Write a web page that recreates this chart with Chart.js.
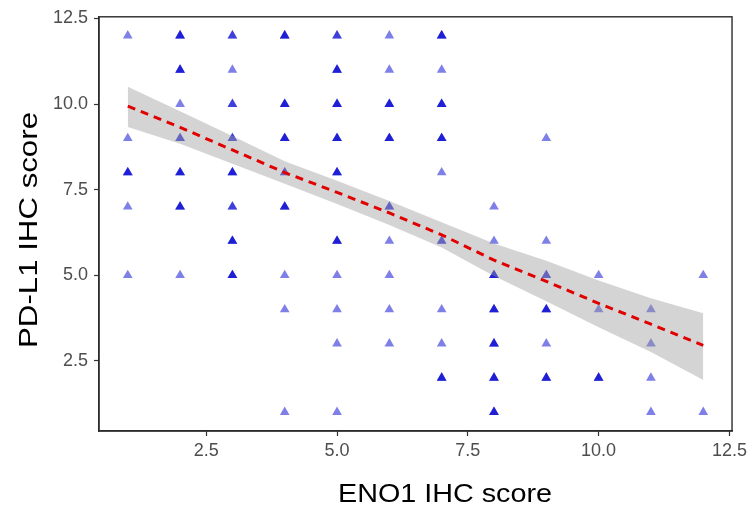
<!DOCTYPE html>
<html>
<head>
<meta charset="utf-8">
<title>ENO1 vs PD-L1</title>
<script src="https://cdn.jsdelivr.net/npm/chart.js@4"></script>
<style>
  html, body { margin: 0; padding: 0; background: #fff; }
  canvas { display: block; }
</style>
</head>
<body>
<canvas id="scatter" width="751" height="509"></canvas>
<script>
// observed scores, one entry per grid cell; ptN = how many samples share that cell
const ptX = [1,1,1,1,1, 2,2,2,2,2,2,2, 3,3,3,3,3,3,3,3, 4,4,4,4,4,4,4,4,
  5,5,5,5,5,5,5,5,5,5, 6,6,6,6,6,6,6,6,6, 7,7,7,7,7,7,7,7,7,
  8,8,8,8,8,8,8, 9,9,9,9,9,9, 10,10,10, 11,11,11,11, 12,12];
const ptY = [12,9,8,7,5, 12,11,10,9,8,7,5, 12,11,10,9,8,7,6,5, 12,10,9,8,7,5,4,1,
  12,11,10,9,8,6,5,4,3,1, 12,11,10,9,7,6,5,4,3, 12,11,10,9,8,6,4,3,2,
  7,6,5,4,3,2,1, 9,6,5,4,3,2, 5,4,2, 4,3,2,1, 5,1];
const ptN = [1,1,3,1,1, 3,3,1,2,3,3,1, 2,1,2,2,3,2,3,3, 3,3,3,2,3,1,1,1,
  2,3,3,3,3,3,1,1,1,1, 1,1,3,3,2,1,1,1,1, 3,1,3,3,1,2,1,1,3,
  1,1,3,3,3,3,3, 1,1,2,3,1,3, 1,1,3, 1,1,1,1, 1,1];

// fitted line and its confidence band
const fitX = [1,2,3,4,5,6,7,8,9,10,11,12];
const fitY = [9.94,9.32,8.66,8.00,7.42,6.82,6.18,5.44,4.82,4.18,3.57,2.95];
const bandHigh = [10.51,9.79,9.07,8.33,7.76,7.17,6.55,5.93,5.42,4.85,4.33,3.89];
const bandLow = [9.33,8.84,8.26,7.67,7.08,6.47,5.81,4.98,4.24,3.48,2.76,1.94];

const tickValues = [2.5, 5, 7.5, 10, 12.5];
const tickLabels = ['2.5', '5.0', '7.5', '10.0', '12.5'];

const xTitle = 'ENO1 IHC score';
const yTitle = 'PD-L1 IHC score';

const FONT = '"Liberation Sans", Arial, Helvetica, sans-serif';

// repeat each cell so overlapping translucent marks get darker
const points = [];
ptX.forEach((x, i) => {
  for (let k = 0; k < ptN[i]; k++) points.push({ x: x, y: ptY[i] });
});

const toXY = (ys) => fitX.map((x, i) => ({ x: x, y: ys[i] }));

const fixedTicks = (scale) => {
  scale.ticks = tickValues.map((v) => ({ value: v }));
};

const tickFont = { family: FONT, size: 18 };
const tickText = (v) => tickLabels[tickValues.indexOf(v)];

const axisOpts = (extra) => Object.assign({
  type: 'linear',
  min: 0.45,
  max: 12.55,
  afterBuildTicks: fixedTicks,
  border: { display: true, color: '#2b2b2b', width: 1.4 },
  grid: {
    drawOnChartArea: false,
    drawTicks: true,
    tickLength: 5,
    tickWidth: 1.2,
    tickColor: '#333'
  }
}, extra);

// panel frame plus the two axis titles
const decorations = {
  id: 'decorations',
  afterDraw(chart) {
    const ctx = chart.ctx;
    const a = chart.chartArea;
    ctx.save();
    ctx.strokeStyle = '#2b2b2b';
    ctx.lineWidth = 1.4;
    ctx.strokeRect(a.left, a.top, a.right - a.left, a.bottom - a.top);

    ctx.fillStyle = '#000';
    ctx.textAlign = 'center';
    ctx.textBaseline = 'alphabetic';

    ctx.font = '26px ' + FONT;
    let w = ctx.measureText(xTitle).width;
    ctx.save();
    ctx.translate(445, 502);
    ctx.scale(214 / w, 1);
    ctx.fillText(xTitle, 0, 0);
    ctx.restore();

    ctx.font = '25px ' + FONT;
    w = ctx.measureText(yTitle).width;
    ctx.save();
    ctx.translate(37, 230);
    ctx.rotate(-Math.PI / 2);
    ctx.scale(236 / w, 1);
    ctx.fillText(yTitle, 0, 0);
    ctx.restore();
    ctx.restore();
  }
};

new Chart(document.getElementById('scatter'), {
  type: 'scatter',
  data: {
    datasets: [
      {
        type: 'line',
        data: toXY(fitY),
        borderColor: '#e00000',
        borderWidth: 3,
        borderDash: [8, 6],
        pointRadius: 0,
        fill: false
      },
      {
        type: 'line',
        data: toXY(bandHigh),
        borderWidth: 0,
        pointRadius: 0,
        backgroundColor: 'rgba(153,153,153,0.42)',
        fill: '+1'
      },
      {
        type: 'line',
        data: toXY(bandLow),
        borderWidth: 0,
        pointRadius: 0,
        fill: false
      },
      {
        data: points,
        pointStyle: 'triangle',
        pointRadius: 5.6,
        pointBorderWidth: 0,
        backgroundColor: 'rgba(0,0,210,0.5)',
        borderColor: 'rgba(0,0,0,0)'
      }
    ]
  },
  options: {
    responsive: false,
    animation: false,
    layout: { padding: { top: 11, right: 18, left: 0, bottom: 0 } },
    plugins: {
      legend: { display: false },
      tooltip: { enabled: false }
    },
    scales: {
      x: axisOpts({
        position: 'bottom',
        afterFit: (s) => { s.height = 78; },
        ticks: { color: '#4d4d4d', padding: 4, maxRotation: 0, font: tickFont, callback: tickText }
      }),
      y: axisOpts({
        position: 'left',
        afterFit: (s) => { s.width = 99; },
        ticks: { color: '#4d4d4d', padding: 6, font: tickFont, callback: tickText }
      })
    }
  },
  plugins: [decorations]
});
</script>
</body>
</html>
